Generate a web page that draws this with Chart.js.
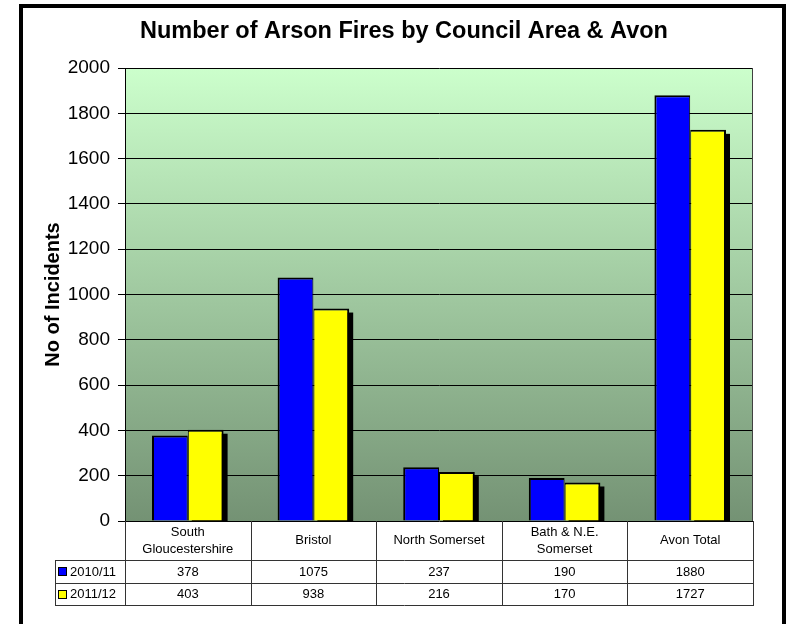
<!DOCTYPE html>
<html><head><meta charset="utf-8">
<script src="https://cdn.jsdelivr.net/npm/chart.js@4.4.0/dist/chart.umd.min.js"></script>
<style>html,body{margin:0;padding:0;background:#fff;} #wrap{width:789px;height:624px;}</style>
</head><body><div id="wrap"><canvas id="c" width="789" height="624"></canvas></div>
<script>
const chartTitle = "Number of Arson Fires by Council Area & Avon";
const yAxisTitle = "No of Incidents";
const categories = [["South", "Gloucestershire"], "Bristol", "North Somerset", ["Bath & N.E.", "Somerset"], "Avon Total"];
const seriesNames = ["2010/11", "2011/12"];
const values2010 = [378, 1075, 237, 190, 1880];
const values2011 = [403, 938, 216, 170, 1727];
const yTicks = [0, 200, 400, 600, 800, 1000, 1200, 1400, 1600, 1800, 2000];
const seriesColors = ["#0000FF", "#FFFF00"];

const FONT = "'Liberation Sans', Arial, sans-serif";

const bgPlugin = {
  id: 'bg',
  beforeDraw(chart) {
    const ctx = chart.ctx, a = chart.chartArea;
    ctx.save();
    ctx.fillStyle = '#fff';
    ctx.fillRect(0, 0, chart.width, chart.height);
    const g = ctx.createLinearGradient(0, a.top, 0, a.bottom);
    g.addColorStop(0, '#CCFFCC');
    g.addColorStop(1, '#749274');
    ctx.fillStyle = g;
    ctx.fillRect(a.left, a.top, a.right - a.left, a.bottom - a.top);
    ctx.restore();
  },
  beforeDatasetsDraw(chart) {
    const ctx = chart.ctx, a = chart.chartArea;
    ctx.save();
    ctx.strokeStyle = '#404040';
    ctx.lineWidth = 1;
    ctx.beginPath();
    ctx.moveTo(Math.round(a.right) - 0.5, a.top);
    ctx.lineTo(Math.round(a.right) - 0.5, a.bottom);
    ctx.stroke();
    ctx.restore();
  },
  afterDraw(chart) {
    const ctx = chart.ctx;
    ctx.save();
    ctx.strokeStyle = '#000';
    ctx.lineWidth = 4;
    ctx.strokeRect(21, 6, 763, 700);
    ctx.restore();
  }
};

// drop shadow behind the second series, drawn from the bar elements' own geometry
const shadowPlugin = {
  id: 'shadow',
  beforeDatasetDraw(chart, args) {
    if (args.index !== 1) return;
    const ctx = chart.ctx, a = chart.chartArea;
    const meta = chart.getDatasetMeta(1);
    ctx.save();
    ctx.beginPath();
    ctx.rect(a.left, a.top, a.right - a.left, a.bottom - a.top);
    ctx.clip();
    ctx.fillStyle = '#000';
    meta.data.forEach(el => {
      const p = el.getProps(['x', 'y', 'base', 'width'], true);
      const left = p.x - p.width / 2 + 4;
      ctx.fillRect(left, p.y + 4, p.width, p.base - p.y);
    });
    ctx.restore();
  }
};

const tablePlugin = {
  id: 'table',
  afterDraw(chart) {
    const ctx = chart.ctx, a = chart.chartArea, xs = chart.scales.x;
    const half = (a.right - a.left) / categories.length / 2;
    const rowCat = 39, rowVal = 22.5, legendLeft = 55;
    const y0 = a.bottom, y1 = y0 + rowCat, y2 = y1 + rowVal, y3 = y2 + rowVal;
    const P = v => Math.round(v) + 0.5;
    ctx.save();
    ctx.strokeStyle = '#333';
    ctx.lineWidth = 1;
    const h = (x1, x2, y) => { ctx.beginPath(); ctx.moveTo(x1, P(y)); ctx.lineTo(x2, P(y)); ctx.stroke(); };
    const v = (x, ya, yb) => { ctx.beginPath(); ctx.moveTo(P(x), ya); ctx.lineTo(P(x), yb); ctx.stroke(); };
    const right = a.right + 1;
    h(legendLeft, right, y1);
    h(legendLeft, right, y2);
    h(legendLeft, right, y3);
    v(legendLeft, P(y1), P(y3));
    v(a.left, y0, P(y3));
    categories.forEach((c, i) => {
      const cx = xs.getPixelForValue(i);
      v(cx + half, y0, P(y3));
    });
    ctx.fillStyle = '#000';
    ctx.font = '13px ' + FONT;
    ctx.textAlign = 'center';
    ctx.textBaseline = 'middle';
    categories.forEach((c, i) => {
      const cx = xs.getPixelForValue(i);
      const lines = Array.isArray(c) ? c : [c];
      const mid = (y0 + y1) / 2;
      lines.forEach((t, k) => {
        ctx.fillText(t, cx, mid + (k - (lines.length - 1) / 2) * 17);
      });
      ctx.fillText(String(values2010[i]), cx, (y1 + y2) / 2 + 1);
      ctx.fillText(String(values2011[i]), cx, (y2 + y3) / 2 + 1);
    });
    const rows = [[seriesNames[0], seriesColors[0], (y1 + y2) / 2], [seriesNames[1], seriesColors[1], (y2 + y3) / 2]];
    rows.forEach(([name, col, cy]) => {
      ctx.fillStyle = col;
      ctx.fillRect(58, Math.round(cy) - 4, 9, 9);
      ctx.strokeStyle = '#000';
      ctx.strokeRect(58.5, Math.round(cy) - 3.5, 8, 8);
      ctx.fillStyle = '#000';
      ctx.textAlign = 'left';
      ctx.fillText(name, 70, cy + 1);
    });
    ctx.restore();
  }
};

new Chart(document.getElementById('c'), {
  type: 'bar',
  data: {
    labels: categories,
    datasets: [
      { label: seriesNames[0], data: values2010, backgroundColor: seriesColors[0], borderColor: '#000',
        borderWidth: { top: 2, left: 2, right: 1, bottom: 0 }, clip: 0 },
      { label: seriesNames[1], data: values2011, backgroundColor: seriesColors[1], borderColor: '#000',
        borderWidth: { top: 2, left: 1, right: 2, bottom: 0 }, clip: 0 }
    ]
  },
  options: {
    responsive: false,
    animation: false,
    devicePixelRatio: 1,
    layout: { padding: { left: 55, right: 36, top: 0, bottom: 103 } },
    datasets: { bar: { categoryPercentage: 0.57, barPercentage: 1.0 } },
    plugins: {
      legend: { display: false },
      tooltip: { enabled: false },
      title: {
        display: true, text: chartTitle, color: '#000',
        font: { family: FONT, size: 23.5, weight: 'bold', lineHeight: 1.2 },
        padding: { top: 17, bottom: 22.8 }
      }
    },
    scales: {
      x: { display: false, grid: { display: false } },
      y: {
        min: 0, max: 2000,
        afterBuildTicks: (s) => { s.ticks = yTicks.map(v => ({ value: v })); },
        afterFit: (s) => { s.width = 70; },
        ticks: { color: '#000', font: { family: FONT, size: 19 }, padding: 8,
          callback: (v) => String(v) },
        grid: { color: '#000', lineWidth: 1, tickLength: 7, drawTicks: true },
        border: { color: '#000', width: 1 },
        title: { display: true, text: yAxisTitle, color: '#000',
          font: { family: FONT, size: 20, weight: 'bold', lineHeight: 1.2 }, padding: { top: -14, bottom: 0 } }
      }
    }
  },
  plugins: [bgPlugin, shadowPlugin, tablePlugin]
});
</script>
</body></html>
